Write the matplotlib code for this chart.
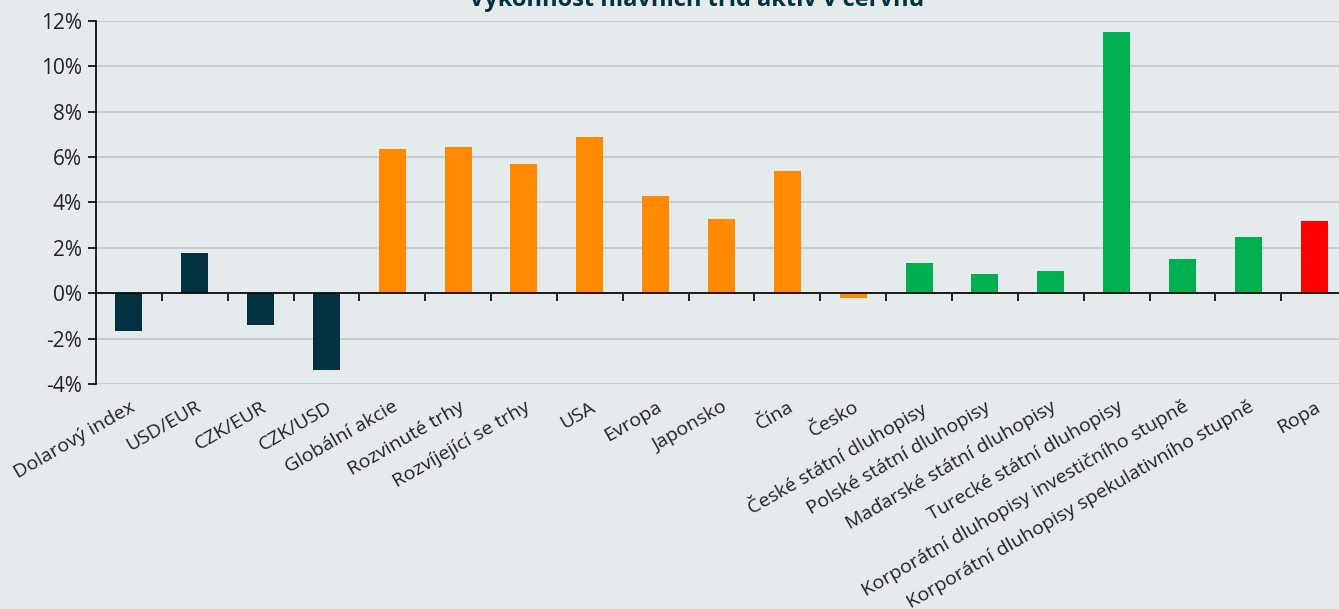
import numpy as np
import matplotlib.pyplot as plt

# data (June returns, %)
categories = ['Dolarový index', 'USD/EUR', 'CZK/EUR', 'CZK/USD', 'Globální akcie',
              'Rozvinuté trhy', 'Rozvíjející se trhy', 'USA', 'Evropa', 'Japonsko',
              'Čína', 'Česko', 'České státní dluhopisy', 'Polské státní dluhopisy',
              'Maďarské státní dluhopisy', 'Turecké státní dluhopisy',
              'Korporátní dluhopisy investičního stupně',
              'Korporátní dluhopisy spekulativního stupně', 'Ropa']
values = [-1.65, 1.77, -1.42, -3.40, 6.35, 6.43, 5.70, 6.88, 4.28, 3.27,
          5.38, -0.22, 1.33, 0.85, 0.98, 11.52, 1.52, 2.48, 3.18]
groups = ['fx'] * 4 + ['eq'] * 8 + ['bond'] * 6 + ['oil']

group_colors = {'fx': '#02323F', 'eq': '#FF8A00', 'bond': '#00B050', 'oil': '#FF0000'}
bg = '#E5EAED'

plt.rcParams['font.family'] = ['Open Sans', 'DejaVu Sans']

fig = plt.figure(figsize=(13.39, 6.09), dpi=100, facecolor=bg)
ax = fig.add_axes([0.0717, 0.3695, 0.9343, 0.596], facecolor=bg)

x = np.arange(len(categories))
ax.bar(x, np.array(values) / 100, width=0.41,
       color=[group_colors[g] for g in groups], zorder=3)

ymin, ymax = -0.04, 0.12
ax.set_ylim(ymin, ymax)
ax.set_xlim(-0.5, len(categories) - 0.5)
ax.set_yticks(np.arange(-0.04, 0.121, 0.02))
ax.yaxis.set_major_formatter(plt.FuncFormatter(lambda v, p: f'{v*100:.0f}%'))
ax.grid(axis='y', color='#C5CACD', linewidth=1.3, zorder=0)
ax.axhline(0, color='black', linewidth=1.2, zorder=4)

for s in ['top', 'right', 'bottom']:
    ax.spines[s].set_visible(False)
ax.spines['left'].set_color('black')
ax.spines['left'].set_linewidth(1.2)
ax.tick_params(axis='y', length=6, width=1.2, labelsize=15, colors='black',
               labelcolor='#222222', pad=4)

ax.set_xticks(x)
ax.set_xticklabels(categories, rotation=30, ha='right', rotation_mode='anchor',
                   fontsize=14, color='#222222')
ax.tick_params(axis='x', length=0, pad=10)

# category separators hanging from the zero line
zero = ax.secondary_xaxis(-ymin / (ymax - ymin))
zero.set_xticks(x[:-1] + 0.5)
zero.set_xticklabels([])
zero.tick_params(length=6, width=1.2, color='black')
zero.spines['bottom'].set_color('black')
zero.spines['bottom'].set_linewidth(1.2)

fig.text(0.52, 0.99, 'Výkonnost hlavních tříd aktiv v červnu', ha='center',
         va='baseline', fontsize=17, fontweight='bold', color='#02323F')

fig.savefig('out.png', dpi=100, facecolor=bg)
